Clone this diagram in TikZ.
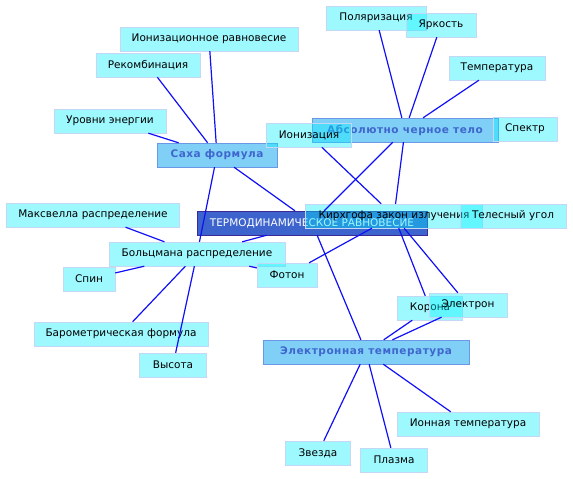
\documentclass[tikz,border=0pt]{standalone}
\usepackage{fontspec}
\setmainfont{DejaVu Sans}
\newfontfamily\topicfont[LetterSpace=5]{DejaVu Sans}
\definecolor{leaf-bg}{HTML}{00F0FF}
\definecolor{leaf-edge}{HTML}{C4D8F6}
\definecolor{topic-bg}{HTML}{00A0F0}
\definecolor{topic-edge}{HTML}{6A98E4}
\definecolor{topic-text}{HTML}{3F66CC}
\definecolor{root-bg}{HTML}{3C64CC}
\definecolor{root-edge}{HTML}{3A2A98}
\definecolor{link-blue}{HTML}{1010F8}

\begin{document}
\begin{tikzpicture}[x=1pt, y=-1pt,
    every node/.style={font=\fontsize{10.5}{12}\selectfont},
    leaf/.style={draw=leaf-edge, fill=leaf-bg, fill opacity=0.38,
      text opacity=1, minimum height=24pt, inner sep=0pt},
    topic/.style={draw=topic-edge, fill=topic-bg, fill opacity=0.5,
      text opacity=1, text=topic-text, minimum height=24pt, inner sep=0pt,
      font=\topicfont\fontsize{10.5}{12}\selectfont\bfseries},
    rootbox/.style={draw=root-edge, fill=root-bg, text=white,
      minimum height=24pt, inner sep=0pt},
    link/.style={draw=link-blue, line width=1.2pt}]
  % Mind map: one root box, three topic boxes, leaf boxes round them.
  % Coordinates: (x, y) in pt, y grows downwards, box centres;
  %   widths given per box, all boxes 24pt high.
  \useasboundingbox (0,0) rectangle (573,479);
  \node[rootbox, minimum width=230pt] (termo) at (312,223)
    {ТЕРМОДИНАМИЧЕСКОЕ РАВНОВЕСИЕ};
  \foreach \n/\x/\y/\w/\t in {saha/217/155/120/{Саха формула},
      absch/405/130/186/{Абсолютно черное тело},
      eltemp/366/352/206/{Электронная температура}}
    \node[topic, minimum width=\w pt] (\n) at (\x,\y) {\t};
  \foreach \n/\x/\y/\w/\t in {ionrav/209/39/178/{Ионизационное равновесие},
      rekomb/148/65/104/{Рекомбинация}, urovni/110/121/112/{Уровни энергии},
      polar/376/18/100/{Поляризация}, yark/441/25/70/{Яркость},
      temper/497/68/96/{Температура}, spektr/525/129/64/{Спектр},
      ioniz/309/135/85/{Ионизация}, kirch/394/216/177/{Кирхгофа закон излучения},
      telesn/513/216/106/{Телесный угол}, maxw/93/215/173/{Максвелла распределение},
      bolc/197/254/176/{Больцмана распределение}, spin/89/279/52/{Спин},
      foton/287/275/60/{Фотон}, barom/121/334/174/{Барометрическая формула},
      vysota/173/365/67/{Высота}, korona/430/308/65/{Корона},
      elektron/468/305/78/{Электрон}, iontemp/468/424/142/{Ионная температура},
      zvezda/318/453/65/{Звезда}, plazma/394/460/67/{Плазма}}
    \node[leaf, minimum width=\w pt] (\n) at (\x,\y) {\t};
  % connectors, centre to centre, cut at the box borders
  \foreach \a/\b in {ionrav/saha, rekomb/saha, urovni/saha, saha/bolc,
      saha/termo, polar/absch, yark/absch, temper/absch, absch/termo,
      absch/kirch, ioniz/kirch, kirch/elektron, kirch/korona, kirch/foton,
      termo/bolc, termo/eltemp, korona/eltemp, elektron/eltemp,
      eltemp/zvezda, eltemp/plazma, eltemp/iontemp, maxw/bolc, spin/bolc,
      barom/bolc, vysota/bolc, bolc/foton}
    \draw[link] (\a) -- (\b);
\end{tikzpicture}
\end{document}
